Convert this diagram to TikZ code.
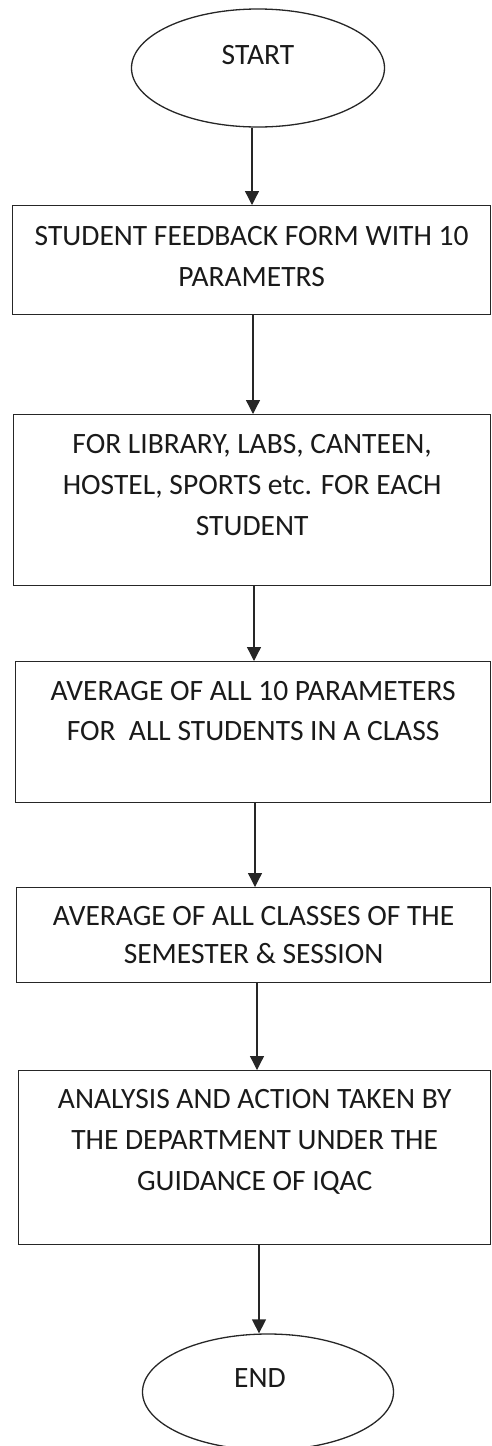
\documentclass[tikz,border=0pt]{standalone}
\usepackage{fontspec}
\setmainfont{Carlito}
\usetikzlibrary{arrows.meta,shapes.geometric}
\definecolor{ink}{HTML}{262626}
\definecolor{txtc}{HTML}{1A1A1A}
\begin{document}
\begin{tikzpicture}[x=1pt,y=-1pt,
  box/.style={draw=ink,line width=1.3pt,rectangle,inner sep=0pt,anchor=north west,text=txtc,
    font=\fontsize{29.5}{41}\selectfont},
  oval/.style={draw=ink,line width=1.3pt,ellipse,inner sep=0pt,text=txtc,
    font=\fontsize{29.5}{41}\selectfont},
  arr/.style={draw=ink,line width=1.3pt,-{Triangle[width=14pt,length=14pt]}}]
\useasboundingbox (0,0) rectangle (491,1446);
\node[oval,minimum width=253pt,minimum height=118pt] (start) at (258,68)
  {\raisebox{3.5pt}[0pt][0pt]{START}};
\node[box] (b1) at (12,205)
  {\parbox[c][109pt][t]{478pt}{\centering\rule{0pt}{39.5pt}STUDENT FEEDBACK FORM WITH 10\\PARAMETRS}};
\node[box] (b2) at (13,414)
  {\parbox[c][171pt][t]{477pt}{\centering\rule{0pt}{38.5pt}FOR LIBRARY, LABS, CANTEEN,\\HOSTEL, SPORTS etc. FOR EACH\\STUDENT}};
\node[box] (b3) at (15,661)
  {\parbox[c][141pt][t]{475pt}{\centering\rule{0pt}{38.5pt}AVERAGE OF ALL 10 PARAMETERS\\[-1pt]FOR\ \ ALL STUDENTS IN A CLASS}};
\node[box] (b4) at (16,887)
  {\parbox[c][95pt][t]{474pt}{\centering\rule{0pt}{37.5pt}AVERAGE OF ALL CLASSES OF THE\\[-3pt]SEMESTER \& SESSION}};
\node[box] (b5) at (18,1070)
  {\parbox[c][174pt][t]{472pt}{\centering\rule{0pt}{37.5pt}ANALYSIS AND ACTION TAKEN BY\\THE DEPARTMENT UNDER THE\\GUIDANCE OF IQAC}};
\node[oval,minimum width=251pt,minimum height=116pt] (endn) at (268,1392)
  {\raisebox{4.5pt}[0pt][0pt]{\makebox[0pt]{END\hspace{16pt}}}};
\coordinate (a1) at (252,0);
\coordinate (a2) at (253,0);
\coordinate (a3) at (254,0);
\coordinate (a4) at (255,0);
\coordinate (a5) at (257,0);
\coordinate (a6) at (259,0);
\draw[arr] (start.south -| a1) -- (b1.north -| a1);
\draw[arr] (b1.south -| a2) -- (b2.north -| a2);
\draw[arr] (b2.south -| a3) -- (b3.north -| a3);
\draw[arr] (b3.south -| a4) -- (b4.north -| a4);
\draw[arr] (b4.south -| a5) -- (b5.north -| a5);
\draw[arr] (b5.south -| a6) -- (endn.north -| a6);
\end{tikzpicture}
\end{document}
